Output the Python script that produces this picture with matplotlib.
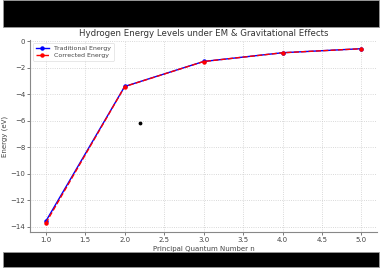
import matplotlib.pyplot as plt
from matplotlib.patches import Rectangle
import numpy as np

# Data
n_levels = [1, 2, 3, 4, 5]
traditional_energy = [-13.6, -3.4, -1.511, -0.85, -0.544]
corrected_energy = [-13.74, -3.41, -1.515, -0.853, -0.546]
stray_x = [2.19]
stray_y = [-6.15]

fig = plt.figure(figsize=(3.82, 2.7), dpi=100)
ax = fig.add_axes([0.0785, 0.141, 0.909, 0.711])

gray = '#444444'
ax.plot(n_levels, traditional_energy, 'o-', color='blue', lw=1.0, ms=2.2, label='Traditional Energy')
ax.plot(n_levels, corrected_energy, 'o--', color='red', lw=1.0, ms=2.2, label='Corrected Energy')
ax.scatter(stray_x, stray_y, color='black', s=3, zorder=5)

ax.set_title("Hydrogen Energy Levels under EM & Gravitational Effects", fontsize=6.2, color='#333333', pad=3)
ax.set_xlabel("Principal Quantum Number n", fontsize=5, color=gray, labelpad=2)
ax.set_ylabel("Energy (eV)", fontsize=5, color=gray)
ax.yaxis.set_label_coords(-0.062, 0.5)
ax.set_xticks(np.arange(1.0, 5.01, 0.5))
ax.set_yticks(np.arange(-14, 0.1, 2))
ax.tick_params(labelsize=5, colors=gray, length=2, width=0.5, pad=1.5)
ax.grid(True, linestyle=':', color='#cccccc', lw=0.6)
for s in ['top', 'right']:
    ax.spines[s].set_visible(False)
for s in ['left', 'bottom']:
    ax.spines[s].set_color('#888888')
    ax.spines[s].set_linewidth(0.8)
leg = ax.legend(loc='upper left', fontsize=4.5, frameon=True, borderpad=0.4,
                handlelength=2.2, labelspacing=0.3)
leg.get_frame().set_linewidth(0.4)
for t in leg.get_texts():
    t.set_color(gray)

# black bars top and bottom
fig.patches.append(Rectangle((0.008, 1 - 27 / 270), 0.984, 27 / 270, transform=fig.transFigure,
                             facecolor='black', edgecolor='#999999', lw=0.6))
fig.patches.append(Rectangle((0.008, 3 / 270), 0.984, 15 / 270, transform=fig.transFigure,
                             facecolor='black', edgecolor='#999999', lw=0.6))

plt.savefig('out.png', dpi=100)
